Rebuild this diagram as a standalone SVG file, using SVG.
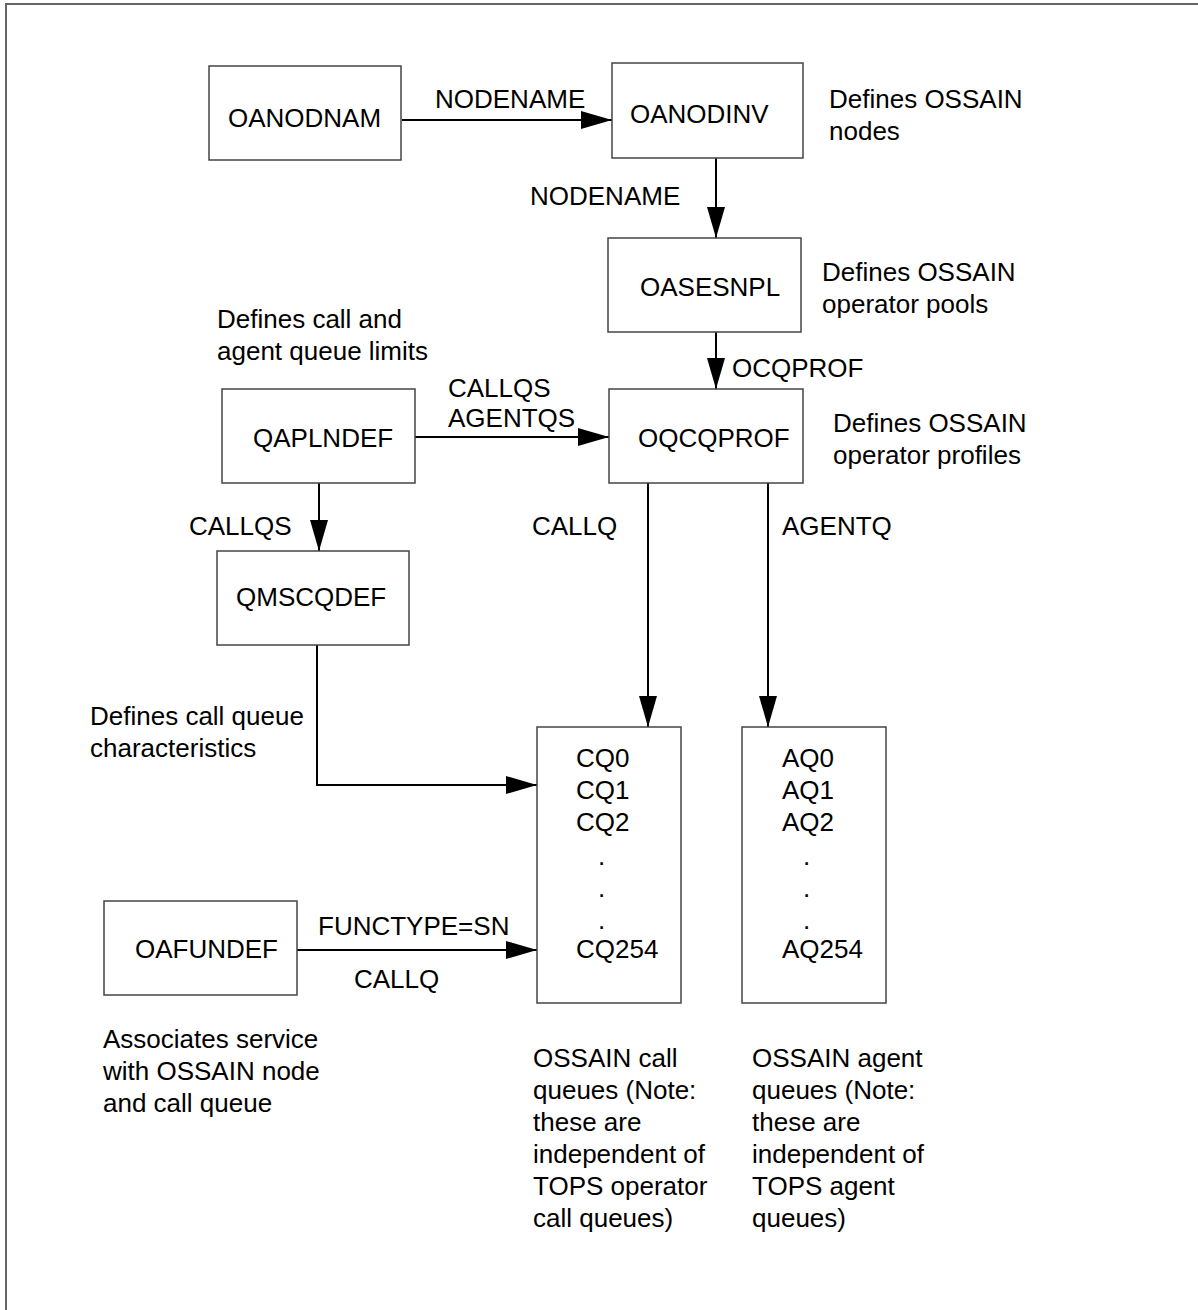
<svg xmlns="http://www.w3.org/2000/svg" width="1198" height="1310" viewBox="0 0 1198 1310">
<style>
text{font-family:"Liberation Sans",Arial,sans-serif;font-size:26px;fill:#000}
.box{fill:#fff;stroke:#444;stroke-width:1.5}
.ln{fill:none;stroke:#000;stroke-width:2}
.frame{fill:none;stroke:#666;stroke-width:2}
</style>
<defs>
<marker id="ah" markerUnits="userSpaceOnUse" markerWidth="32" markerHeight="20" refX="31" refY="9" orient="auto">
<path d="M0,0 L31,9 L0,18 Z" fill="#000"/>
</marker>
</defs>
<rect width="1198" height="1310" fill="#fff"/>
<path class="frame" d="M6,1310 V4 H1198"/>
<g id="connectors">
<line class="ln" x1="402" y1="120" x2="612" y2="120" marker-end="url(#ah)"/>
<line class="ln" x1="716" y1="158" x2="716" y2="238" marker-end="url(#ah)"/>
<line class="ln" x1="716" y1="332" x2="716" y2="389" marker-end="url(#ah)"/>
<line class="ln" x1="415" y1="437" x2="609" y2="437" marker-end="url(#ah)"/>
<line class="ln" x1="319" y1="483" x2="319" y2="551" marker-end="url(#ah)"/>
<line class="ln" x1="648" y1="483" x2="648" y2="727" marker-end="url(#ah)"/>
<line class="ln" x1="768" y1="483" x2="768" y2="727" marker-end="url(#ah)"/>
<polyline class="ln" points="317,645 317,785 537,785" marker-end="url(#ah)"/>
<line class="ln" x1="297" y1="950" x2="537" y2="950" marker-end="url(#ah)"/>
<text x="435" y="108">NODENAME</text>
<text x="530" y="205">NODENAME</text>
<text x="732" y="377">OCQPROF</text>
<text x="448" y="397">CALLQS</text>
<text x="448" y="427">AGENTQS</text>
<text x="189" y="535">CALLQS</text>
<text x="532" y="535">CALLQ</text>
<text x="782" y="535">AGENTQ</text>
<text x="318" y="935">FUNCTYPE=SN</text>
<text x="354" y="988">CALLQ</text>
</g>
<g id="OANODNAM"><rect class="box" x="209" y="66" width="192" height="94"/><text x="228" y="127">OANODNAM</text></g>
<g id="OANODINV"><rect class="box" x="612" y="63" width="191" height="95"/><text x="630" y="123">OANODINV</text></g>
<g id="OASESNPL"><rect class="box" x="608" y="238" width="193" height="94"/><text x="640" y="296">OASESNPL</text></g>
<g id="QAPLNDEF"><rect class="box" x="222" y="389" width="193" height="94"/><text x="253" y="447">QAPLNDEF</text></g>
<g id="OQCQPROF"><rect class="box" x="609" y="389" width="194" height="94"/><text x="638" y="447">OQCQPROF</text></g>
<g id="QMSCQDEF"><rect class="box" x="217" y="551" width="192" height="94"/><text x="236" y="606">QMSCQDEF</text></g>
<g id="OAFUNDEF"><rect class="box" x="104" y="901" width="193" height="94"/><text x="135" y="958">OAFUNDEF</text></g>
<g id="CQ">
<rect class="box" x="537" y="727" width="144" height="276"/>
<text x="576" y="767">CQ0</text><text x="576" y="799">CQ1</text><text x="576" y="831">CQ2</text>
<text x="598" y="865">.</text><text x="598" y="897">.</text><text x="598" y="929">.</text>
<text x="576" y="958">CQ254</text>
</g>
<g id="AQ">
<rect class="box" x="742" y="727" width="144" height="276"/>
<text x="782" y="767">AQ0</text><text x="782" y="799">AQ1</text><text x="782" y="831">AQ2</text>
<text x="803" y="865">.</text><text x="803" y="897">.</text><text x="803" y="929">.</text>
<text x="782" y="958">AQ254</text>
</g>
<g id="notes">
<text x="829" y="108">Defines OSSAIN</text><text x="829" y="140">nodes</text>
<text x="822" y="281">Defines OSSAIN</text><text x="822" y="313">operator pools</text>
<text x="217" y="328">Defines call and</text><text x="217" y="360">agent queue limits</text>
<text x="833" y="432">Defines OSSAIN</text><text x="833" y="464">operator profiles</text>
<text x="90" y="725">Defines call queue</text><text x="90" y="757">characteristics</text>
<text x="103" y="1048">Associates service</text><text x="103" y="1080">with OSSAIN node</text><text x="103" y="1112">and call queue</text>
<text x="533" y="1067">OSSAIN call</text><text x="533" y="1099">queues (Note:</text><text x="533" y="1131">these are</text><text x="533" y="1163">independent of</text><text x="533" y="1195">TOPS operator</text><text x="533" y="1227">call queues)</text>
<text x="752" y="1067">OSSAIN agent</text><text x="752" y="1099">queues (Note:</text><text x="752" y="1131">these are</text><text x="752" y="1163">independent of</text><text x="752" y="1195">TOPS agent</text><text x="752" y="1227">queues)</text>
</g>
</svg>
